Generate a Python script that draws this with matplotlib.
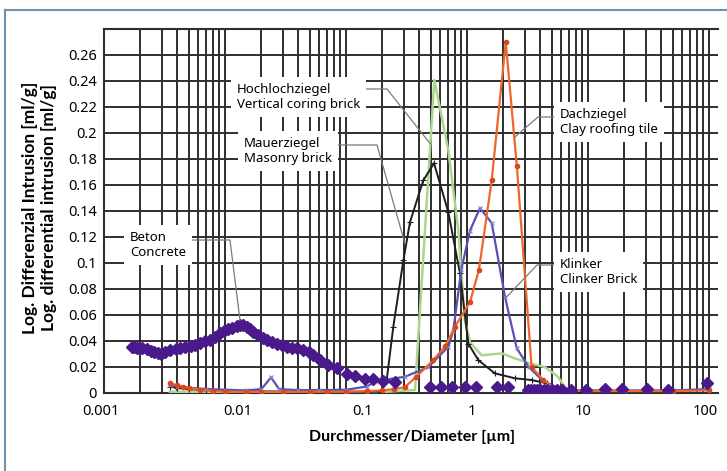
import numpy as np
import matplotlib
matplotlib.use("Agg")
import matplotlib.pyplot as plt
from matplotlib.ticker import LogLocator, NullFormatter, FixedLocator, FixedFormatter
from matplotlib.transforms import ScaledTranslation
from matplotlib.lines import Line2D

plt.rcParams['font.family'] = ['Noto Sans', 'DejaVu Sans']

# ---------------- data ----------------
# Beton / Concrete (diamond markers)
beton_d = [0.00169, 0.00178, 0.00186, 0.00196, 0.00205, 0.00225, 0.00245, 0.0026, 0.00278, 0.00294,
           0.0032, 0.0035, 0.0039, 0.00425, 0.0047, 0.0052, 0.0057, 0.0062, 0.0068, 0.0075,
           0.0082, 0.0091, 0.0099, 0.0106, 0.0115, 0.0125, 0.0134, 0.0142, 0.0151, 0.0161,
           0.0172, 0.0188, 0.0205, 0.0221, 0.0243, 0.0268, 0.0295, 0.0324, 0.0355, 0.0391,
           0.0444, 0.049, 0.0537, 0.061, 0.0714, 0.0838, 0.1013, 0.1187, 0.1436, 0.168,
           0.203, 0.254, 0.494, 0.61, 0.756, 0.962, 1.18, 1.76, 2.17, 3.2,
           3.4, 3.6, 3.8, 4.0, 4.3, 4.6, 5.0, 5.5, 6.1, 7.3,
           9.7, 13.8, 19.0, 30.6, 46.1, 95.7]
beton_v = [0.0355, 0.0352, 0.0348, 0.0345, 0.0343, 0.0335, 0.0322, 0.0317, 0.0305, 0.0300,
           0.0318, 0.0330, 0.0342, 0.0350, 0.0356, 0.0363, 0.0372, 0.0386, 0.0398, 0.0410,
           0.0430, 0.0458, 0.0475, 0.0490, 0.0502, 0.0514, 0.0520, 0.0522, 0.0510, 0.0490,
           0.0470, 0.0445, 0.0425, 0.0407, 0.0392, 0.0380, 0.0368, 0.0356, 0.0350, 0.0343,
           0.0330, 0.0312, 0.0290, 0.0253, 0.0215, 0.0190, 0.0150, 0.0130, 0.0105, 0.0105,
           0.0094, 0.0087, 0.0048, 0.0048, 0.0048, 0.0048, 0.0048, 0.0048, 0.0048, 0.0023,
           0.0020, 0.0023, 0.0020, 0.0023, 0.0021, 0.0023, 0.0020, 0.0023, 0.0023, 0.0020,
           0.0020, 0.0030, 0.0030, 0.0030, 0.0022, 0.0074]

# Mauerziegel / Masonry brick (black)
mauer_d = [0.0035, 0.004, 0.005, 0.007, 0.01, 0.02, 0.05, 0.1, 0.15, 0.195,
           0.217, 0.246, 0.298, 0.338, 0.435, 0.534, 0.701, 0.875, 1.025, 1.24,
           1.70, 2.49, 3.42, 4.56, 5.65, 7.0, 9.0]
mauer_v = [0.0050, 0.0040, 0.0030, 0.0020, 0.0015, 0.0012, 0.0010, 0.0010, 0.0010, 0.0010,
           0.0100, 0.0510, 0.1020, 0.1315, 0.1635, 0.1768, 0.1390, 0.0920, 0.0380, 0.0253,
           0.0151, 0.0113, 0.0100, 0.0074, 0.0023, 0.0010, 0.0010]

# Hochlochziegel / Vertical coring brick (green)
hoch_d = [0.0035, 0.01, 0.05, 0.2, 0.372, 0.537, 0.701, 0.848, 0.96, 1.06,
          1.32, 1.94, 2.49, 3.3, 4.4, 5.65, 6.4, 7.0]
hoch_v = [0.0010, 0.0008, 0.0008, 0.0008, 0.0023, 0.2408, 0.1866, 0.1250, 0.0560, 0.0390,
          0.0290, 0.0305, 0.0266, 0.0228, 0.0200, 0.0125, 0.0050, 0.0010]

# Klinker / Clinker brick (blue-violet)
klink_d = [0.0035, 0.004, 0.005, 0.007, 0.01, 0.015, 0.02, 0.024, 0.028, 0.04,
           0.06, 0.1, 0.15, 0.174, 0.307, 0.48, 0.70, 0.77, 0.90, 1.06,
           1.28, 1.60, 2.06, 2.58, 3.24, 4.17, 5.34, 7.0, 10.0, 20.0,
           50.0, 100.0]
klink_v = [0.0060, 0.0050, 0.0040, 0.0030, 0.0025, 0.0020, 0.0030, 0.0120, 0.0030, 0.0022,
           0.0022, 0.0025, 0.0050, 0.0090, 0.0125, 0.0200, 0.0356, 0.0480, 0.0957, 0.1250,
           0.1423, 0.1308, 0.0740, 0.0343, 0.0200, 0.0100, 0.0048, 0.0020, 0.0020, 0.0020,
           0.0020, 0.0030]

# Dachziegel / Clay roofing tile (orange)
dach_d = [0.0035, 0.004, 0.0045, 0.005, 0.0062, 0.008, 0.01, 0.015, 0.02, 0.03,
          0.05, 0.07, 0.1, 0.15, 0.2, 0.25, 0.307, 0.38, 0.527, 0.66,
          0.795, 1.06, 1.256, 1.6, 2.09, 2.58, 3.42, 4.27, 5.34, 7.0,
          10.0, 20.0, 50.0, 100.0]
dach_v = [0.0075, 0.0060, 0.0050, 0.0040, 0.0023, 0.0015, 0.0010, 0.0010, 0.0008, 0.0008,
          0.0010, 0.0010, 0.0010, 0.0015, 0.0020, 0.0030, 0.0045, 0.0125, 0.0253, 0.0360,
          0.0510, 0.0700, 0.0950, 0.1635, 0.2700, 0.1750, 0.0200, 0.0100, 0.0036, 0.0020,
          0.0015, 0.0015, 0.0015, 0.0020]

x_tick_values = [0.001, 0.01, 0.1, 1, 10, 100]
x_tick_labels = ['0.001', '0.01', '0.1', '1', '10', '100']
y_tick_values = [0, 0.02, 0.04, 0.06, 0.08, 0.1, 0.12, 0.14, 0.16, 0.18, 0.2, 0.22, 0.24, 0.26, 0.28]
y_tick_labels = ['0', '0.02', '0.04', '0.06', '0.08', '0.1', '0.12', '0.14', '0.16', '0.18',
                 '0.2', '0.22', '0.24', '0.26', '']

# ---------------- figure / layout (pixel geometry of the reference) ----------------
W, H = 727, 471
fig = plt.figure(figsize=(W / 100, H / 100), dpi=100)
X0, XR, YB, YT, DEC = 104, 718, 393, 29, 121
xmin = 0.001
xmax = 0.001 * 10 ** ((XR - X0) / DEC)
ax = fig.add_axes([X0 / W, (H - YB) / H, (XR - X0) / W, (YB - YT) / H])
ax.set_xscale('log')
ax.set_xlim(xmin, xmax)
ax.set_ylim(0, 0.28)

GRID = '#2e2e2e'
ax.xaxis.set_major_locator(FixedLocator(x_tick_values))
ax.xaxis.set_major_formatter(FixedFormatter(x_tick_labels))
ax.xaxis.set_minor_locator(LogLocator(base=10, subs=np.arange(2, 10), numticks=30))
ax.xaxis.set_minor_formatter(NullFormatter())
ax.yaxis.set_major_locator(FixedLocator(y_tick_values))
ax.yaxis.set_major_formatter(FixedFormatter(y_tick_labels))
ax.tick_params(axis='both', which='both', length=0, labelsize=10.5, colors='black')
ax.tick_params(axis='x', pad=8)
ax.tick_params(axis='y', pad=5)
ax.grid(True, axis='x', which='both', color=GRID, lw=1.4)
ax.grid(True, axis='y', which='major', color=GRID, lw=1.4)
ax.set_axisbelow(True)
for s in ['left', 'bottom', 'top']:
    ax.spines[s].set_color(GRID)
    ax.spines[s].set_linewidth(1.5)
ax.spines['right'].set_visible(False)

# shift x labels to their places in the reference
x_offsets_px = [-3, 13, 17, 5, -5, -4]
for lbl, off in zip(ax.get_xticklabels(), x_offsets_px):
    lbl.set_transform(lbl.get_transform() + ScaledTranslation(off / 100, 0, fig.dpi_scale_trans))

# ---------------- series ----------------
ax.plot(hoch_d, hoch_v, color='#acd68e', lw=1.8, zorder=3)
ax.plot(mauer_d, mauer_v, color='#1e1e1e', lw=1.4, marker='+', ms=4, mew=0.8, zorder=4)
ax.plot(klink_d, klink_v, color='#5a4fb4', lw=1.6, marker='x', ms=3.5, mew=0.8,
        mec='#8a80d8', zorder=4)
ax.plot(dach_d, dach_v, color='#f0652d', lw=1.6, marker='o', ms=3, mec='#d9481a',
        mfc='#d9481a', zorder=5)
ax.plot(beton_d, beton_v, ls='none', marker='D', ms=6.5, color='#4a1a8c', mec='#4a1a8c',
        zorder=6)

# ---------------- annotations ----------------
inv = ax.transData.inverted()


def px2data(px, py):
    return inv.transform((px, H - py))


def leader(points_px, end_data):
    pts = [px2data(px, py) for px, py in points_px] + [end_data]
    xs = [p[0] for p in pts]
    ys = [p[1] for p in pts]
    ax.plot(xs, ys, color='#7a7a7a', lw=0.9, zorder=7)


TXT = dict(fontsize=9.5, linespacing=1.25, va='center', ha='left', zorder=8,
           bbox=dict(boxstyle='square,pad=0.45', facecolor='white', edgecolor='none'))

# Beton / Concrete
leader([(175, 240), (230, 240)], (0.0133, 0.056))
fig.text(130 / W, 1 - 245 / H, 'Beton\nConcrete', **TXT)
# Hochlochziegel
leader([(340, 89), (387, 89)], (0.494, 0.192))
fig.text(237 / W, 1 - 97 / H, 'Hochlochziegel\nVertical coring brick', **TXT)
# Mauerziegel
leader([(330, 145), (377, 145)], (0.307, 0.115))
fig.text(244 / W, 1 - 151 / H, 'Mauerziegel\nMasonry brick', **TXT)
# Dachziegel
leader([(565, 117), (538, 117)], (2.49, 0.197))
fig.text(560 / W, 1 - 122 / H, 'Dachziegel\nClay roofing tile', **TXT)
# Klinker
leader([(565, 265), (537, 265)], (2.13, 0.074))
fig.text(560 / W, 1 - 272 / H, 'Klinker\nClinker Brick', **TXT)

# ---------------- axis titles ----------------
TITLE = dict(family=['Lato', 'DejaVu Sans'], fontweight='bold', ha='center', va='center')
fig.text(30 / W, 1 - 208 / H, 'Log. Differenzial Intrusion [ml/g]', rotation=90,
         fontsize=12.5, **TITLE)
fig.text(49 / W, 1 - 208 / H, 'Log. differential intrusion [ml/g]', rotation=90,
         fontsize=12.5, **TITLE)
fig.text(412 / W, 1 - 437 / H, 'Durchmesser/Diameter [µm]', fontsize=11.5, **TITLE)

# ---------------- outer frame ----------------
fig.add_artist(Line2D([5 / W, 5 / W], [0, 1 - 10 / H], transform=fig.transFigure,
                      color='#6d93b3', lw=1.5))
fig.add_artist(Line2D([5 / W, 1], [1 - 10 / H, 1 - 10 / H], transform=fig.transFigure,
                      color='#6d93b3', lw=1.5))

fig.savefig('out.png', dpi=100)
